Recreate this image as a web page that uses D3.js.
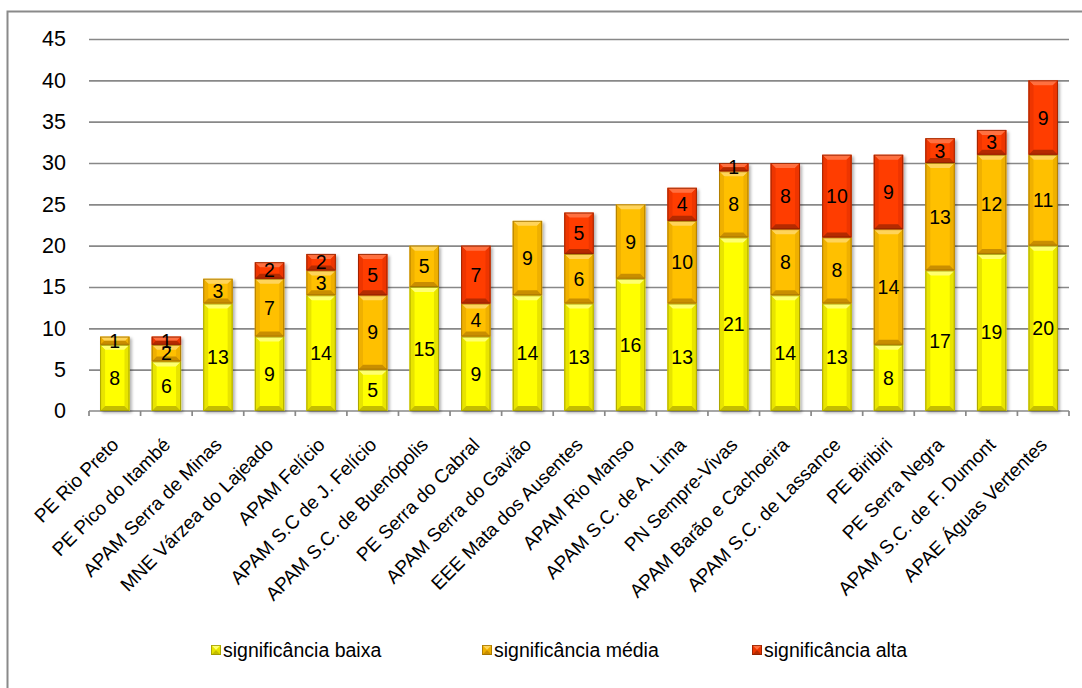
<!DOCTYPE html>
<html>
<head>
<meta charset="utf-8">
<script src="https://cdn.jsdelivr.net/npm/d3@7"></script>
<style>
  html, body { margin: 0; padding: 0; background: #fff; }
  svg { display: block; font-family: "Liberation Sans", Arial, sans-serif; }
</style>
</head>
<body>
<svg id="chart" width="1082" height="688"></svg>
<script>
// Unidades de conservação
const categories = [
  "PE Rio Preto", "PE Pico do Itambé", "APAM Serra de Minas", "MNE Várzea do Lajeado",
  "APAM Felício", "APAM S.C de J. Felício", "APAM S.C. de Buenópolis", "PE Serra do Cabral",
  "APAM Serra do Gavião", "EEE Mata dos Ausentes", "APAM Rio Manso", "APAM S.C. de A. Lima",
  "PN Sempre-Vivas", "APAM Barão e Cachoeira", "APAM S.C. de Lassance", "PE Biribiri",
  "PE Serra Negra", "APAM S.C. de F. Dumont", "APAE Águas Vertentes"
];
const seriesNames = ["significância baixa", "significância média", "significância alta"];
const baixa = [8, 6, 13, 9, 14, 5, 15, 9, 14, 13, 16, 13, 21, 14, 13, 8, 17, 19, 20];
const media = [1, 2, 3, 7, 3, 9, 5, 4, 9, 6, 9, 10, 8, 8, 8, 14, 13, 12, 11];
const alta  = [0, 1, 0, 2, 2, 5, 0, 7, 0, 5, 0, 4, 1, 8, 10, 9, 3, 3, 9];
const yTicks = [0, 5, 10, 15, 20, 25, 30, 35, 40, 45];

// Bevelled fill palette per series: face, top bevel, side bevel, bottom bevel, outline
const palette = [
  { face: "#ffff00", top: "#ffff70", side: "#e8e400", bottom: "#c4bd00", line: "#9c9600" },
  { face: "#ffc000", top: "#ffd45a", side: "#efb000", bottom: "#c98e00", line: "#a07000" },
  { face: "#ff3d00", top: "#ff7040", side: "#ee3600", bottom: "#b52a00", line: "#8c2000" }
];

const svg = d3.select("#chart");
const W = 1082, H = 688;
const plot = { left: 89, right: 1069, top: 39, bottom: 411 };

const x = d3.scaleBand().domain(categories).range([plot.left, plot.right]).paddingInner(0.43).paddingOuter(0.215);
const xBand = d3.scaleBand().domain(categories).range([plot.left, plot.right]);
const y = d3.scaleLinear().domain([0, 45]).range([plot.bottom, plot.top]);

// Shadow for the bars
const defs = svg.append("defs");
const f = defs.append("filter").attr("id", "shadow").attr("x", "-20%").attr("y", "-20%").attr("width", "150%").attr("height", "150%");
f.append("feDropShadow").attr("dx", 2).attr("dy", 2).attr("stdDeviation", 1.6).attr("flood-color", "#000").attr("flood-opacity", 0.3);

// Chart frame
svg.append("rect").attr("x", 7.5).attr("y", 11.5).attr("width", W + 20).attr("height", H + 20)
  .attr("fill", "none").attr("stroke", "#8a8a8a").attr("stroke-width", 2);

// Horizontal gridlines and y labels
const yAxis = d3.axisLeft(y).tickValues(yTicks).tickSize(-(plot.right - plot.left)).tickPadding(23);
const gy = svg.append("g").attr("transform", `translate(${plot.left},0)`).call(yAxis);
gy.select(".domain").remove();
gy.selectAll(".tick line").attr("stroke", "#888").attr("stroke-width", 1.7)
  .attr("opacity", d => d === 0 ? 0 : 1);
gy.selectAll(".tick text").attr("font-size", 21.5).attr("fill", "#000")
  .attr("font-family", "Liberation Sans, Arial, sans-serif");

// Category axis line with tick marks between categories
const gx = svg.append("g");
gx.append("line").attr("x1", plot.left).attr("x2", plot.right).attr("y1", plot.bottom).attr("y2", plot.bottom)
  .attr("stroke", "#888").attr("stroke-width", 1.7);
const boundaries = categories.map(c => xBand(c)).concat([plot.right]);
gx.selectAll("line.tk").data(boundaries).join("line").attr("class", "tk")
  .attr("x1", d => d).attr("x2", d => d).attr("y1", plot.bottom).attr("y2", plot.bottom + 5)
  .attr("stroke", "#888").attr("stroke-width", 1.7);

// Rotated category labels
gx.selectAll("text.cat").data(categories).join("text").attr("class", "cat")
  .attr("transform", d => `translate(${x(d) + x.bandwidth() / 2 + 5},${plot.bottom + 35}) rotate(-45)`)
  .attr("text-anchor", "end").attr("font-size", 19).attr("fill", "#000").text(d => d);

// Stacked data
const rows = categories.map((c, i) => ({ cat: c, v: [baixa[i], media[i], alta[i]] }));
const segs = [];
rows.forEach(r => {
  let acc = 0;
  r.v.forEach((v, s) => {
    if (v > 0) segs.push({ cat: r.cat, s, v, y0: acc, y1: acc + v });
    acc += v;
  });
});

function bevel(g, x0, y0, w, h, p) {
  const b = Math.min(5, h / 2, w / 2);
  g.append("rect").attr("x", x0).attr("y", y0).attr("width", w).attr("height", h).attr("fill", p.face);
  const poly = pts => g.append("polygon").attr("points", pts.map(q => q.join(",")).join(" "));
  poly([[x0, y0], [x0 + w, y0], [x0 + w - b, y0 + b], [x0 + b, y0 + b]]).attr("fill", p.top);
  poly([[x0, y0], [x0 + b, y0 + b], [x0 + b, y0 + h - b], [x0, y0 + h]]).attr("fill", p.side);
  poly([[x0 + w, y0], [x0 + w - b, y0 + b], [x0 + w - b, y0 + h - b], [x0 + w, y0 + h]]).attr("fill", p.side);
  poly([[x0, y0 + h], [x0 + w, y0 + h], [x0 + w - b, y0 + h - b], [x0 + b, y0 + h - b]]).attr("fill", p.bottom);
  g.append("rect").attr("x", x0 + 0.5).attr("y", y0 + 0.5).attr("width", w - 1).attr("height", Math.max(0, h - 1))
    .attr("fill", "none").attr("stroke", p.line).attr("stroke-width", 1).attr("stroke-opacity", 0.8);
}

const gb = svg.append("g").attr("filter", "url(#shadow)");
segs.forEach(d => {
  const g = gb.append("g");
  bevel(g, x(d.cat), y(d.y1), x.bandwidth(), y(d.y0) - y(d.y1), palette[d.s]);
});

// Value labels centred in each segment
svg.append("g").selectAll("text").data(segs).join("text")
  .attr("x", d => x(d.cat) + x.bandwidth() / 2)
  .attr("y", d => (y(d.y0) + y(d.y1)) / 2)
  .attr("dy", "0.36em").attr("text-anchor", "middle").attr("font-size", 19.5).attr("fill", "#000")
  .text(d => d.v);

// Legend
const legendX = [211, 482, 752];
const lg = svg.append("g");
seriesNames.forEach((name, i) => {
  const g = lg.append("g");
  bevel(g, legendX[i], 645, 10, 10, palette[i]);
  g.append("text").attr("x", legendX[i] + 12).attr("y", 650).attr("dy", "0.36em")
    .attr("font-size", 19.5).attr("fill", "#000").text(name);
});
</script>
</body>
</html>
